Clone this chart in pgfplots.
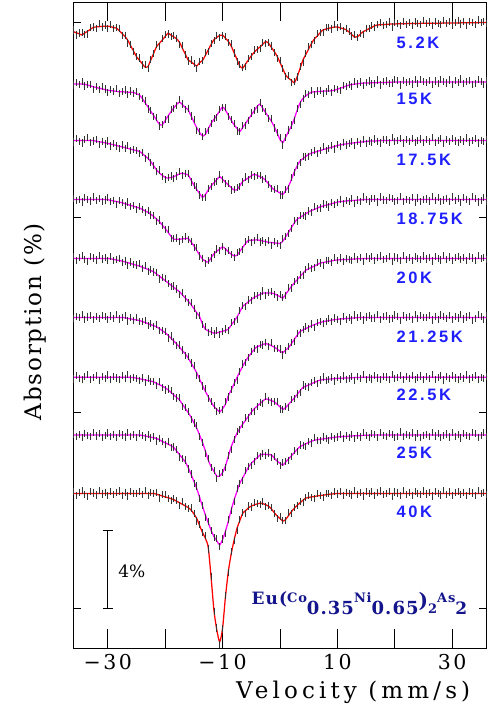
\documentclass[border=0pt]{standalone}
\usepackage{fontspec}
\setmainfont{DejaVu Serif}
\newfontfamily\tickfont[LetterSpace=12]{DejaVu Serif}
\newfontfamily\vfont[LetterSpace=18]{DejaVu Serif}
\newfontfamily\afont[LetterSpace=8]{DejaVu Serif}
\newfontfamily\lblfont[LetterSpace=16]{Liberation Sans}
\newfontfamily\cmpfont[LetterSpace=6]{DejaVu Serif}
\usepackage{pgfplots}
\usepackage{pgfplotstable}
\pgfplotsset{compat=1.18}
\definecolor{fitred}{RGB}{255,0,0}
\definecolor{fitmag}{RGB}{255,0,255}
\definecolor{lblblue}{RGB}{30,30,255}
\definecolor{navy}{RGB}{20,20,140}

% depths (absorption %) of each spectrum below its own baseline; n1, n2 = scatter of the data points
\pgfplotstableread{
x a b c d e f g h i n1 n2
-36 0.46 0.10 0 0 0 0 0 0 0 0.08 -0.05
-35.5 0.52 0.10 0 0 0 0 0 0 0 -0.11 0.06
-35 0.57 0.10 0 0 0 0 0 0 0 0.04 -0.01
-34.5 0.63 0.10 0 0 0 0 0 0 0 0.13 0.13
-34 0.53 0.12 0 0 0 0 0 0 0 -0.06 -0.09
-33.5 0.44 0.16 0.01 0 0 0 0 0 0 -0.14 0.02
-33 0.34 0.20 0.01 0 0 0 0 0 0 0.09 0.08
-32.5 0.24 0.25 0.01 0 0 0 0 0 0 0.02 -0.12
-32 0.22 0.28 0.04 0 0 0 0 0 0 -0.08 0.05
-31.5 0.21 0.32 0.07 0 0 0 0 0 0 0.15 -0.06
-31 0.19 0.35 0.09 0 0 0 0 0 0 -0.03 0.11
-30.5 0.18 0.39 0.12 0 0 0 0 0 0 0.06 0.03
-30 0.18 0.42 0.15 0.01 0 0 0 0 0 -0.12 -0.10
-29.5 0.21 0.44 0.19 0.05 0.02 0 0 0 0 0.10 0.07
-29 0.25 0.46 0.22 0.08 0.05 0 0 0 0 -0.05 -0.04
-28.5 0.28 0.48 0.26 0.11 0.08 0 0 0 0 0.03 0.14
-28 0.41 0.50 0.30 0.14 0.11 0 0 0 0 0.12 -0.08
-27.5 0.56 0.50 0.33 0.17 0.14 0 0 0 0 -0.09 0.00
-27 0.71 0.51 0.37 0.22 0.18 0.02 0 0 0 0.05 0.10
-26.5 0.91 0.52 0.41 0.26 0.22 0.05 0 0 0 -0.13 -0.13
-26 1.19 0.52 0.45 0.31 0.26 0.08 0 0 0 0.08 0.06
-25.5 1.46 0.54 0.49 0.35 0.31 0.11 0.01 0 0 -0.02 -0.03
-25 1.74 0.60 0.52 0.40 0.35 0.13 0.04 0 0 0.01 0.12
-24.5 1.92 0.66 0.56 0.44 0.39 0.16 0.07 0 0 0.11 -0.07
-24 2.10 0.84 0.67 0.51 0.45 0.21 0.10 0.02 0 -0.07 0.01
-23.5 2.28 1.06 0.80 0.59 0.51 0.26 0.13 0.05 0 0.14 0.09
-23 2.25 1.27 0.92 0.66 0.56 0.32 0.16 0.08 0 -0.10 -0.11
-22.5 1.91 1.50 1.09 0.76 0.62 0.37 0.19 0.11 0 0.04 0.04
-22 1.57 1.72 1.30 0.88 0.69 0.43 0.23 0.14 0 -0.01 -0.05
-21.5 1.23 1.95 1.51 1.01 0.80 0.48 0.31 0.18 0.04 0.09 0.13
-21 1.06 2.16 1.67 1.14 0.91 0.58 0.38 0.25 0.09 -0.15 -0.09
-20.5 0.89 2.20 1.79 1.32 1.02 0.68 0.45 0.33 0.13 0.06 0.02
-20 0.71 1.97 1.90 1.49 1.14 0.78 0.53 0.40 0.18 0.12 0.07
-19.5 0.54 1.74 1.93 1.68 1.25 0.91 0.64 0.47 0.22 -0.04 -0.15
-19 0.64 1.52 1.90 1.88 1.37 1.06 0.77 0.54 0.27 -0.08 0.11
-18.5 0.73 1.33 1.86 2.04 1.48 1.21 0.90 0.64 0.32 0.07 -0.02
-18 0.83 1.15 1.79 2.04 1.60 1.36 1.03 0.82 0.40 0.03 -0.06
-17.5 1.01 1.03 1.71 2.04 1.71 1.53 1.16 1.01 0.48 -0.12 0.12
-17 1.31 1.16 1.68 2.02 1.87 1.70 1.37 1.19 0.56 0.13 0.03
-16.5 1.61 1.30 1.72 2.01 2.03 1.86 1.59 1.38 0.64 -0.03 -0.10
-16 1.91 1.43 1.76 1.99 2.18 2.08 1.80 1.66 0.72 -0.06 0.08
-15.5 2.01 1.73 2.03 2.18 2.36 2.33 2.04 2.01 0.85 0.10 -0.01
-15 2.12 2.04 2.29 2.37 2.57 2.58 2.32 2.37 1.05 0.02 0.10
-14.5 2.22 2.34 2.52 2.61 2.78 2.84 2.60 2.74 1.28 -0.13 -0.13
-14 2.05 2.58 2.72 2.85 2.99 3.16 2.96 3.19 1.65 0.07 0.05
-13.5 1.94 2.77 2.92 3.05 3.36 3.47 3.33 3.64 2.00 -0.01 -0.04
-13 1.68 2.68 2.77 3.16 3.63 3.78 3.77 4.09 2.30 0.14 0.14
-12.5 1.40 2.40 2.54 3.21 3.71 4.06 4.23 4.49 2.76 -0.09 -0.08
-12 1.12 2.12 2.33 2.99 3.77 4.33 4.57 4.88 4.30 0.05 0.01
-11.5 0.87 1.91 2.17 2.78 3.83 4.56 4.81 5.20 6.00 -0.04 0.06
-11 0.76 1.70 2.01 2.65 3.81 4.70 5.06 5.42 7.00 0.11 -0.11
-10.5 0.65 1.48 1.85 2.54 3.77 4.84 5.05 5.63 7.60 -0.12 0.09
-10 0.64 1.27 2.00 2.43 3.73 4.68 4.87 5.35 6.90 0.00 -0.03
-9.5 0.80 1.44 2.14 2.53 3.69 4.44 4.54 4.93 5.30 0.08 0.13
-9 0.96 1.70 2.28 2.68 3.62 4.01 4.05 4.41 4.00 -0.07 -0.07
-8.5 1.20 1.96 2.41 2.80 3.42 3.72 3.55 3.84 3.10 0.13 0.04
-8 1.54 2.19 2.54 2.89 3.22 3.40 3.20 3.33 2.40 -0.02 0.07
-7.5 1.88 2.37 2.53 2.87 3.01 3.08 2.86 2.90 1.80 -0.10 -0.14
-7 2.22 2.54 2.32 2.66 2.74 2.78 2.62 2.47 1.40 0.06 0.00
-6.5 2.33 2.33 2.10 2.46 2.46 2.51 2.40 2.20 1.02 0.03 0.12
-6 2.12 2.12 2.01 2.26 2.34 2.23 2.20 1.92 0.88 -0.14 -0.09
-5.5 1.91 1.91 1.92 2.10 2.22 2.02 1.99 1.65 0.74 0.09 -0.05
-5 1.70 1.69 1.82 2.09 2.10 1.83 1.79 1.45 0.65 -0.05 0.10
-4.5 1.52 1.48 1.73 2.08 2.00 1.64 1.61 1.31 0.59 0.12 0.03
-4 1.38 1.26 1.79 2.07 1.92 1.50 1.48 1.17 0.54 0.01 -0.12
-3.5 1.25 1.13 1.86 2.10 1.85 1.45 1.35 1.03 0.50 -0.08 0.08
-3 1.11 1.35 1.92 2.13 1.77 1.39 1.22 0.98 0.52 0.10 -0.02
-2.5 0.97 1.57 2.05 2.16 1.77 1.34 1.10 0.99 0.58 -0.11 0.05
-2 1.05 1.79 2.22 2.20 1.77 1.38 1.13 1.01 0.65 0.04 -0.09
-1.5 1.27 2.01 2.40 2.21 1.77 1.45 1.19 1.02 0.79 0.07 0.15
-1 1.48 2.29 2.53 2.23 1.81 1.52 1.25 1.18 0.99 -0.03 -0.06
-0.5 1.72 2.61 2.61 2.24 1.88 1.62 1.38 1.34 1.15 -0.13 0.02
0 2.04 2.94 2.69 2.26 1.96 1.73 1.51 1.45 1.29 0.11 0.11
0.5 2.37 3.10 2.77 2.13 2.03 1.80 1.64 1.54 1.42 0.02 -0.13
1 2.69 2.81 2.56 1.91 1.83 1.67 1.54 1.38 1.33 -0.06 -0.03
1.5 2.85 2.53 2.34 1.68 1.63 1.54 1.38 1.22 1.13 0.15 0.07
2 2.96 2.24 1.99 1.44 1.43 1.34 1.22 1.06 0.93 -0.09 0.04
2.5 3.08 1.87 1.60 1.20 1.25 1.12 1.05 0.90 0.76 0.05 -0.11
3 2.76 1.44 1.30 1.01 1.09 0.91 0.87 0.73 0.61 -0.02 0.10
3.5 2.34 1.06 1.05 0.92 0.93 0.72 0.69 0.59 0.48 0.08 -0.08
4 1.91 0.84 0.93 0.83 0.76 0.64 0.51 0.52 0.35 -0.12 0.01
4.5 1.63 0.71 0.82 0.73 0.60 0.57 0.45 0.45 0.24 0.03 0.12
5 1.34 0.60 0.71 0.64 0.53 0.50 0.39 0.38 0.21 0.10 -0.05
5.5 1.06 0.52 0.65 0.57 0.46 0.43 0.32 0.32 0.18 -0.05 0.09
6 0.83 0.50 0.61 0.51 0.39 0.37 0.26 0.27 0.16 -0.09 -0.14
6.5 0.68 0.49 0.56 0.45 0.32 0.31 0.19 0.24 0.13 0.12 0.03
7 0.52 0.48 0.52 0.38 0.24 0.26 0.14 0.22 0.11 0.00 0.06
7.5 0.37 0.47 0.47 0.34 0.21 0.22 0.12 0.20 0.09 -0.14 -0.10
8 0.33 0.46 0.43 0.30 0.18 0.19 0.11 0.18 0.07 0.07 -0.02
8.5 0.29 0.46 0.39 0.26 0.16 0.17 0.09 0.16 0.05 0.04 0.13
9 0.26 0.45 0.35 0.22 0.13 0.14 0.08 0.14 0.03 -0.07 -0.07
9.5 0.22 0.42 0.31 0.18 0.10 0.11 0.06 0.12 0.02 0.13 0.08
10 0.22 0.37 0.26 0.14 0.08 0.10 0.05 0.10 0 -0.03 0.00
10.5 0.27 0.32 0.23 0.11 0.07 0.08 0.04 0.09 0 0.09 -0.12
11 0.31 0.27 0.20 0.10 0.06 0.07 0.04 0.08 0 -0.11 0.11
11.5 0.36 0.21 0.18 0.08 0.06 0.06 0.03 0.07 0 0.06 -0.04
12 0.48 0.16 0.16 0.07 0.05 0.05 0.03 0.06 0 0.01 0.05
12.5 0.61 0.13 0.14 0.06 0.04 0.04 0.02 0.05 0 -0.08 -0.09
13 0.75 0.11 0.12 0.05 0.03 0.02 0.01 0.04 0 0.14 0.14
13.5 0.72 0.09 0.10 0.04 0.02 0.01 0.01 0.04 0 -0.04 -0.01
14 0.59 0.07 0.09 0.02 0.02 0 0 0.03 0 0.05 0.07
14.5 0.46 0.06 0.07 0.01 0.01 0 0 0.02 0 -0.13 -0.13
15 0.39 0.05 0.05 0 0 0 0 0.01 0 0.10 0.02
15.5 0.31 0.05 0.04 0 0 0 0 0.01 0 -0.01 0.10
16 0.24 0.04 0.03 0 0 0 0 0 0 0.08 -0.06
16.5 0.16 0.04 0.03 0 0 0 0 0 0 -0.10 -0.03
17 0.12 0.03 0.02 0 0 0 0 0 0 0.03 0.13
17.5 0.11 0.03 0.01 0 0 0 0 0 0 0.12 -0.12
18 0.10 0.02 0 0 0 0 0 0 0 -0.06 0.03
18.5 0.09 0.02 0 0 0 0 0 0 0 -0.02 0.07
19 0.08 0.01 0 0 0 0 0 0 0 0.11 -0.08
19.5 0.07 0.01 0 0 0 0 0 0 0 -0.15 -0.04
20 0.07 0 0 0 0 0 0 0 0 0.07 0.12
20.5 0.06 0 0 0 0 0 0 0 0 0.02 0.06
21 0.06 0 0 0 0 0 0 0 0 -0.09 -0.15
21.5 0.06 0 0 0 0 0 0 0 0 0.13 0.09
22 0.05 0 0 0 0 0 0 0 0 -0.05 -0.01
22.5 0.05 0 0 0 0 0 0 0 0 0.04 0.04
23 0.05 0 0 0 0 0 0 0 0 -0.11 -0.10
23.5 0.04 0 0 0 0 0 0 0 0 0.09 0.14
24 0.04 0 0 0 0 0 0 0 0 0.01 -0.07
24.5 0.04 0 0 0 0 0 0 0 0 -0.07 0.11
25 0.03 0 0 0 0 0 0 0 0 0.12 0.01
25.5 0.03 0 0 0 0 0 0 0 0 -0.03 -0.02
26 0.03 0 0 0 0 0 0 0 0 0.06 0.08
26.5 0.03 0 0 0 0 0 0 0 0 -0.13 -0.13
27 0.03 0 0 0 0 0 0 0 0 0.10 0.05
27.5 0.03 0 0 0 0 0 0 0 0 0.00 -0.09
28 0.03 0 0 0 0 0 0 0 0 -0.08 0.12
28.5 0.02 0 0 0 0 0 0 0 0 0.14 0.03
29 0.02 0 0 0 0 0 0 0 0 -0.04 -0.05
29.5 0.02 0 0 0 0 0 0 0 0 0.07 0.10
30 0.02 0 0 0 0 0 0 0 0 -0.10 -0.12
30.5 0.02 0 0 0 0 0 0 0 0 0.03 0.06
31 0.02 0 0 0 0 0 0 0 0 0.11 -0.03
31.5 0.01 0 0 0 0 0 0 0 0 -0.06 0.15
32 0.01 0 0 0 0 0 0 0 0 0.05 -0.08
32.5 0.01 0 0 0 0 0 0 0 0 -0.12 0.02
33 0.01 0 0 0 0 0 0 0 0 0.08 0.09
33.5 0.01 0 0 0 0 0 0 0 0 0.02 -0.14
34 0.01 0 0 0 0 0 0 0 0 -0.09 -0.06
34.5 0 0 0 0 0 0 0 0 0 0.13 0.13
35 0 0 0 0 0 0 0 0 0 -0.01 0.04
35.5 0 0 0 0 0 0 0 0 0 0.06 -0.11
36 0 0 0 0 0 0 0 0 0 -0.05 0.08
}\spec

% #1 column, #2 baseline offset, #3 scatter term, #4 fit colour
\newcommand{\spectrum}[4]{%
  \addplot[only marks, mark=|, mark size=3.6pt, mark options={line width=0.75pt, black!80}]
    table[x=x, y expr=#2-\thisrow{#1}#3] {\spec};
  \addplot[#4, line width=1.25pt, smooth, tension=0.4] table[x=x, y expr=#2-\thisrow{#1}] {\spec};
}

\begin{document}
\begin{tikzpicture}
\path[use as bounding box] (-73.3pt,-70.7pt) rectangle (416.7pt,648.3pt);
\begin{axis}[
  at={(0pt,0pt)}, anchor=south west,
  scale only axis, width=413.4pt, height=645.8pt,
  xmin=-36, xmax=36, ymin=-2.06, ymax=31.0,
  xtick={-30,-20,-10,0,10,20,30},
  xticklabels={−30,,−10,,10,,30},
  ytick={0,10,20,30}, yticklabels={},
  minor tick num=0,
  tick align=inside,
  xtick pos=both, ytick pos=both,
  xticklabel pos=lower,
  xtick style={/pgfplots/major tick length=19pt, line width=0.8pt, black},
  ytick style={/pgfplots/major tick length=8pt, line width=0.8pt, black},
  axis line style={line width=1.1pt},
  xticklabel style={font=\tickfont\fontsize{20.5}{24}\selectfont, anchor=base, yshift=-21.7pt},
  xlabel={Velocity (mm/s)},
  xlabel style={font=\vfont\fontsize{23}{26}\selectfont, at={(axis description cs:0.677,-0.0774)}, anchor=base},
  ylabel={Absorption (\%)},
  ylabel style={font=\afont\fontsize{23}{26}\selectfont, at={(axis description cs:-0.0764,0.5057)}, anchor=base, rotate=0},
]
\spectrum{a}{29.97}{+\thisrow{n1}}{fitred}
\spectrum{b}{26.93}{+\thisrow{n2}}{fitmag}
\spectrum{c}{23.94}{-\thisrow{n1}}{fitmag}
\spectrum{d}{20.92}{-\thisrow{n2}}{fitmag}
\spectrum{e}{17.90}{+\thisrow{n1}}{fitmag}
\spectrum{f}{14.88}{+\thisrow{n2}}{fitmag}
\spectrum{g}{11.81}{-\thisrow{n1}}{fitmag}
\spectrum{h}{8.86}{-\thisrow{n2}}{fitmag}
\spectrum{i}{5.87}{+\thisrow{n1}}{fitred}

\begin{scope}[every node/.style={anchor=base west, inner sep=0pt, text=lblblue, font=\lblfont\bfseries\fontsize{16.5}{18}\selectfont}]
\node at (axis cs:20.26,28.62) {5.2K};
\node at (axis cs:20.26,25.79) {15K};
\node at (axis cs:20.26,22.65) {17.5K};
\node at (axis cs:20.26,19.65) {18.75K};
\node at (axis cs:20.26,16.63) {20K};
\node at (axis cs:20.26,13.60) {21.25K};
\node at (axis cs:20.26,10.65) {22.5K};
\node at (axis cs:20.26,7.68) {25K};
\node at (axis cs:20.26,4.62) {40K};
\end{scope}

% 4% scale bar
\draw[line width=0.8pt] (axis cs:-30,0) -- (axis cs:-30,4);
\draw[line width=0.8pt] (axis cs:-30.9,0) -- (axis cs:-29.1,0);
\draw[line width=0.8pt] (axis cs:-30.9,4) -- (axis cs:-29.1,4);
\node[anchor=west, inner sep=0pt, font=\fontsize{17}{20}\selectfont] at (axis cs:-28.2,1.9) {4\%};

\node[anchor=base west, inner sep=0pt, text=navy] at (axis cs:-4.96,0.205)
 {\cmpfont\bfseries\fontsize{17}{20}\selectfont Eu(\raisebox{1.2pt}{\fontsize{13}{15}\selectfont Co}\raisebox{-10pt}{\fontsize{18}{20}\selectfont 0.35}\raisebox{1.2pt}{\fontsize{13}{15}\selectfont Ni}\raisebox{-10pt}{\fontsize{18}{20}\selectfont 0.65}{\fontsize{20}{22}\selectfont\raisebox{-3pt}{)}}\raisebox{-9.3pt}{\fontsize{13}{15}\selectfont 2}\raisebox{1.2pt}{\fontsize{13}{15}\selectfont As}\raisebox{-10pt}{\fontsize{17}{20}\selectfont 2}};
\end{axis}
\end{tikzpicture}
\end{document}
